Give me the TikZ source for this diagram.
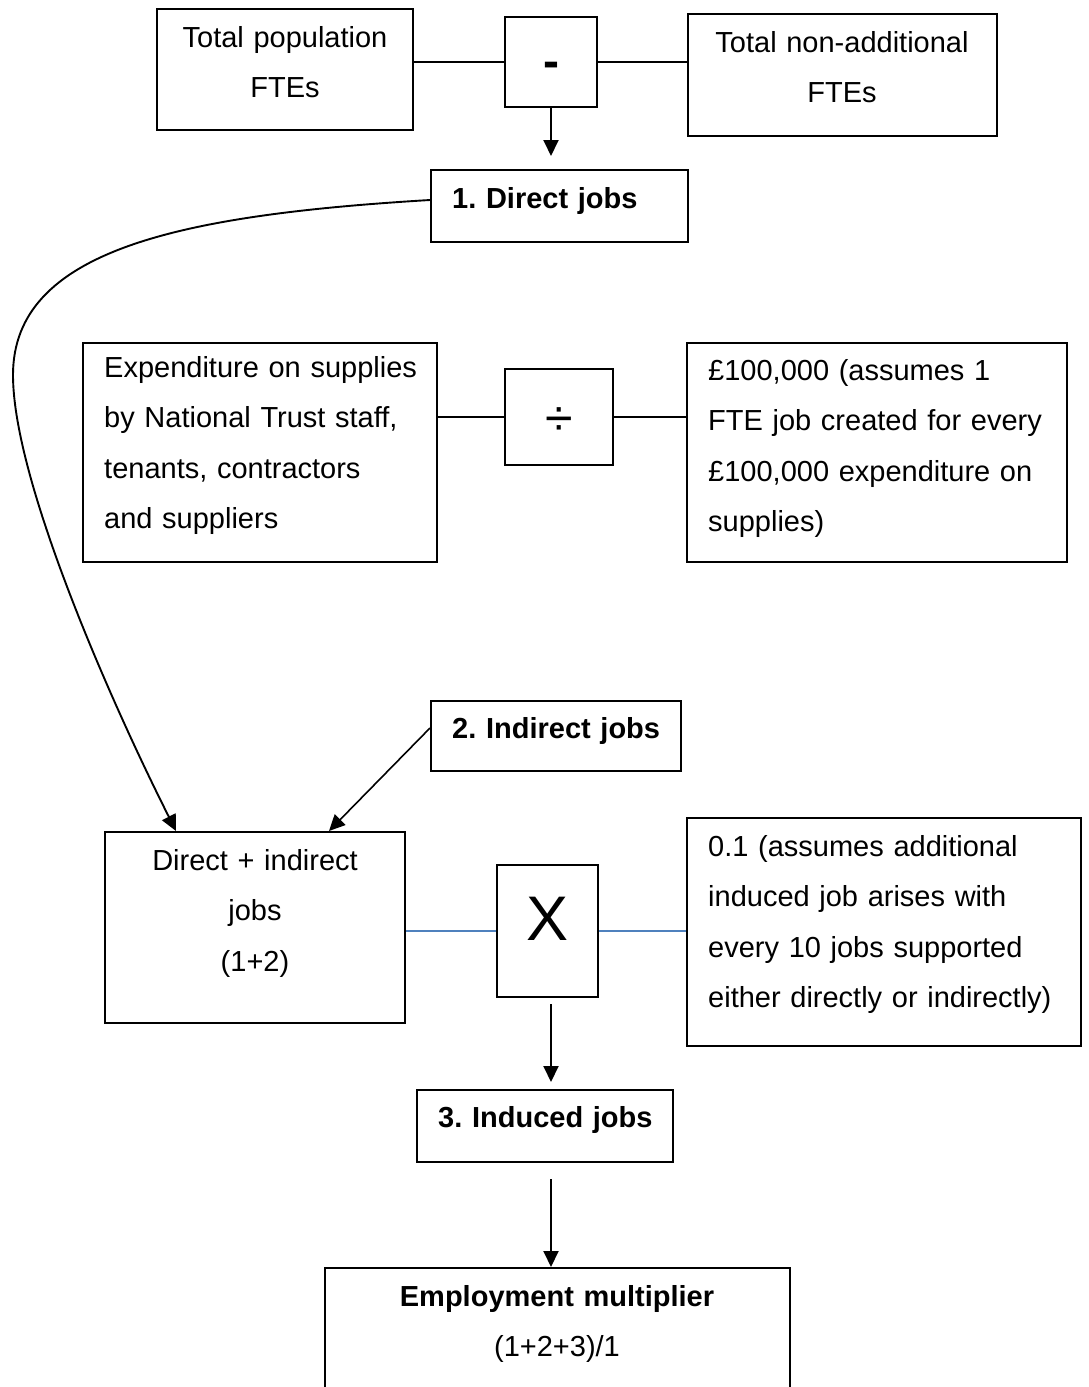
\documentclass[tikz,border=0pt]{standalone}
\usepackage{fontspec}
\setmainfont{Liberation Sans}
\usetikzlibrary{arrows.meta,calc}
\definecolor{linkblue}{RGB}{79,129,189}
\frenchspacing

\begin{document}
\begin{tikzpicture}[x=1pt,y=-1pt,
  box/.style={draw=black, line width=2pt, inner sep=0pt},
  txt/.style={inner sep=0pt, font=\fontsize{29}{50.5}\selectfont, text width=420pt},
  txtl/.style={txt, anchor=base west, align=left},
  txtc/.style={txt, anchor=base, align=center},
  sym/.style={inner sep=0pt, anchor=base},
  link/.style={draw=black, line width=1.9pt},
  bluelink/.style={draw=linkblue, line width=1.6pt},
  arr/.style={draw=black, line width=1.9pt, -{Triangle[length=16pt,width=15pt]}}]

\clip (0,0) rectangle (1088,1387);
\fill[white] (0,0) rectangle (1088,1387);

% boxes
\node[box, minimum width=256pt, minimum height=121pt] (tp)    at (285,69.5) {};
\node[box, minimum width=92pt,  minimum height=90pt]  (minus) at (551,62) {};
\node[box, minimum width=309pt, minimum height=122pt] (tna)   at (842.5,75) {};
\node[box, minimum width=257pt, minimum height=72pt]  (dj)    at (559.5,206) {};
\node[box, minimum width=354pt, minimum height=219pt] (exp)   at (260,452.5) {};
\node[box, minimum width=108pt, minimum height=96pt]  (div)   at (559,417) {};
\node[box, minimum width=380pt, minimum height=219pt] (hund)  at (877,452.5) {};
\node[box, minimum width=250pt, minimum height=70pt]  (ind)   at (556,736) {};
\node[box, minimum width=300pt, minimum height=191pt] (di)    at (255,927.5) {};
\node[box, minimum width=101pt, minimum height=132pt] (xop)   at (547.5,931) {};
\node[box, minimum width=394pt, minimum height=228pt] (pt1)   at (884,932) {};
\node[box, minimum width=256pt, minimum height=72pt]  (ic)    at (545,1126) {};
\node[box, minimum width=465pt, minimum height=152pt] (em)    at (557.5,1344) {};

% texts
\node[txtc] (tp-t)   at (285,47)  {Total population\\FTEs};
\node[txtc] (tna-t)  at (842,52)  {Total non-additional\\FTEs};
\node[txtl] (dj-t)   at (452,208) {\textbf{1. Direct jobs}};
\node[txtl] (exp-t)  at (104,377) {Expenditure on supplies\\by National Trust staff,\\tenants, contractors\\and suppliers};
\node[txtl] (hund-t) at (708,380) {£100,000 (assumes 1\\FTE job created for every\\£100,000 expenditure on\\supplies)};
\node[txtl] (ind-t)  at (452,738) {\textbf{2. Indirect jobs}};
\node[txtc] (di-t)   at (255,870) {Direct + indirect\\jobs\\(1+2)};
\node[txtl] (pt1-t)  at (708,856) {0.1 (assumes additional\\induced job arises with\\every 10 jobs supported\\either directly or indirectly)};
\node[txtl] (ic-t)   at (438,1127) {\textbf{3. Induced jobs}};
\node[txtc] (em-t)   at (557,1306) {\textbf{Employment multiplier}\\(1+2+3)/1};

% operator symbols
\node[sym, font=\fontsize{48}{48}\selectfont\bfseries] (minus-t) at (551,77) {-};
\node[sym, font=\fontsize{50}{50}\selectfont] (div-t) at (559,435) {÷};
\node[sym, font=\fontsize{63}{63}\selectfont] (xop-t) at (547.5,940) {X};

% operand links
\draw[link] (minus.west) -- (minus.west -| tp.east);
\draw[link] (minus.east) -- (minus.east -| tna.west);
\draw[link] (div.west) -- (div.west -| exp.east);
\draw[link] (div.east) -- (div.east -| hund.west);
\draw[bluelink] (xop.west) -- (xop.west -| di.east);
\draw[bluelink] (xop.east) -- (xop.east -| pt1.west);

% arrows
\coordinate (djtip) at ($(minus.south |- dj.north)+(0,-13)$);
\draw[arr] (minus.south) -- (djtip);

\draw[arr] ($(dj.west)+(0,-6)$) .. controls (180,215) and (13,250) .. (13,375)
  .. controls (13,480) and (110,700) .. ($(di.north west)+(72,0)$);

\draw[arr, line width=1.6pt] ($(ind.west)+(0,-8)$) -- ($(di.north west)+(225,0)$);

\coordinate (xs) at ($(xop.south)+(3.5,6)$);
\coordinate (ictip) at ($(xs |- ic.north)+(0,-7)$);
\draw[arr] (xs) -- (ictip);

\coordinate (ics) at ($(ic.south)+(6,16)$);
\draw[arr] (ics) -- (ics |- em.north);

\end{tikzpicture}
\end{document}
